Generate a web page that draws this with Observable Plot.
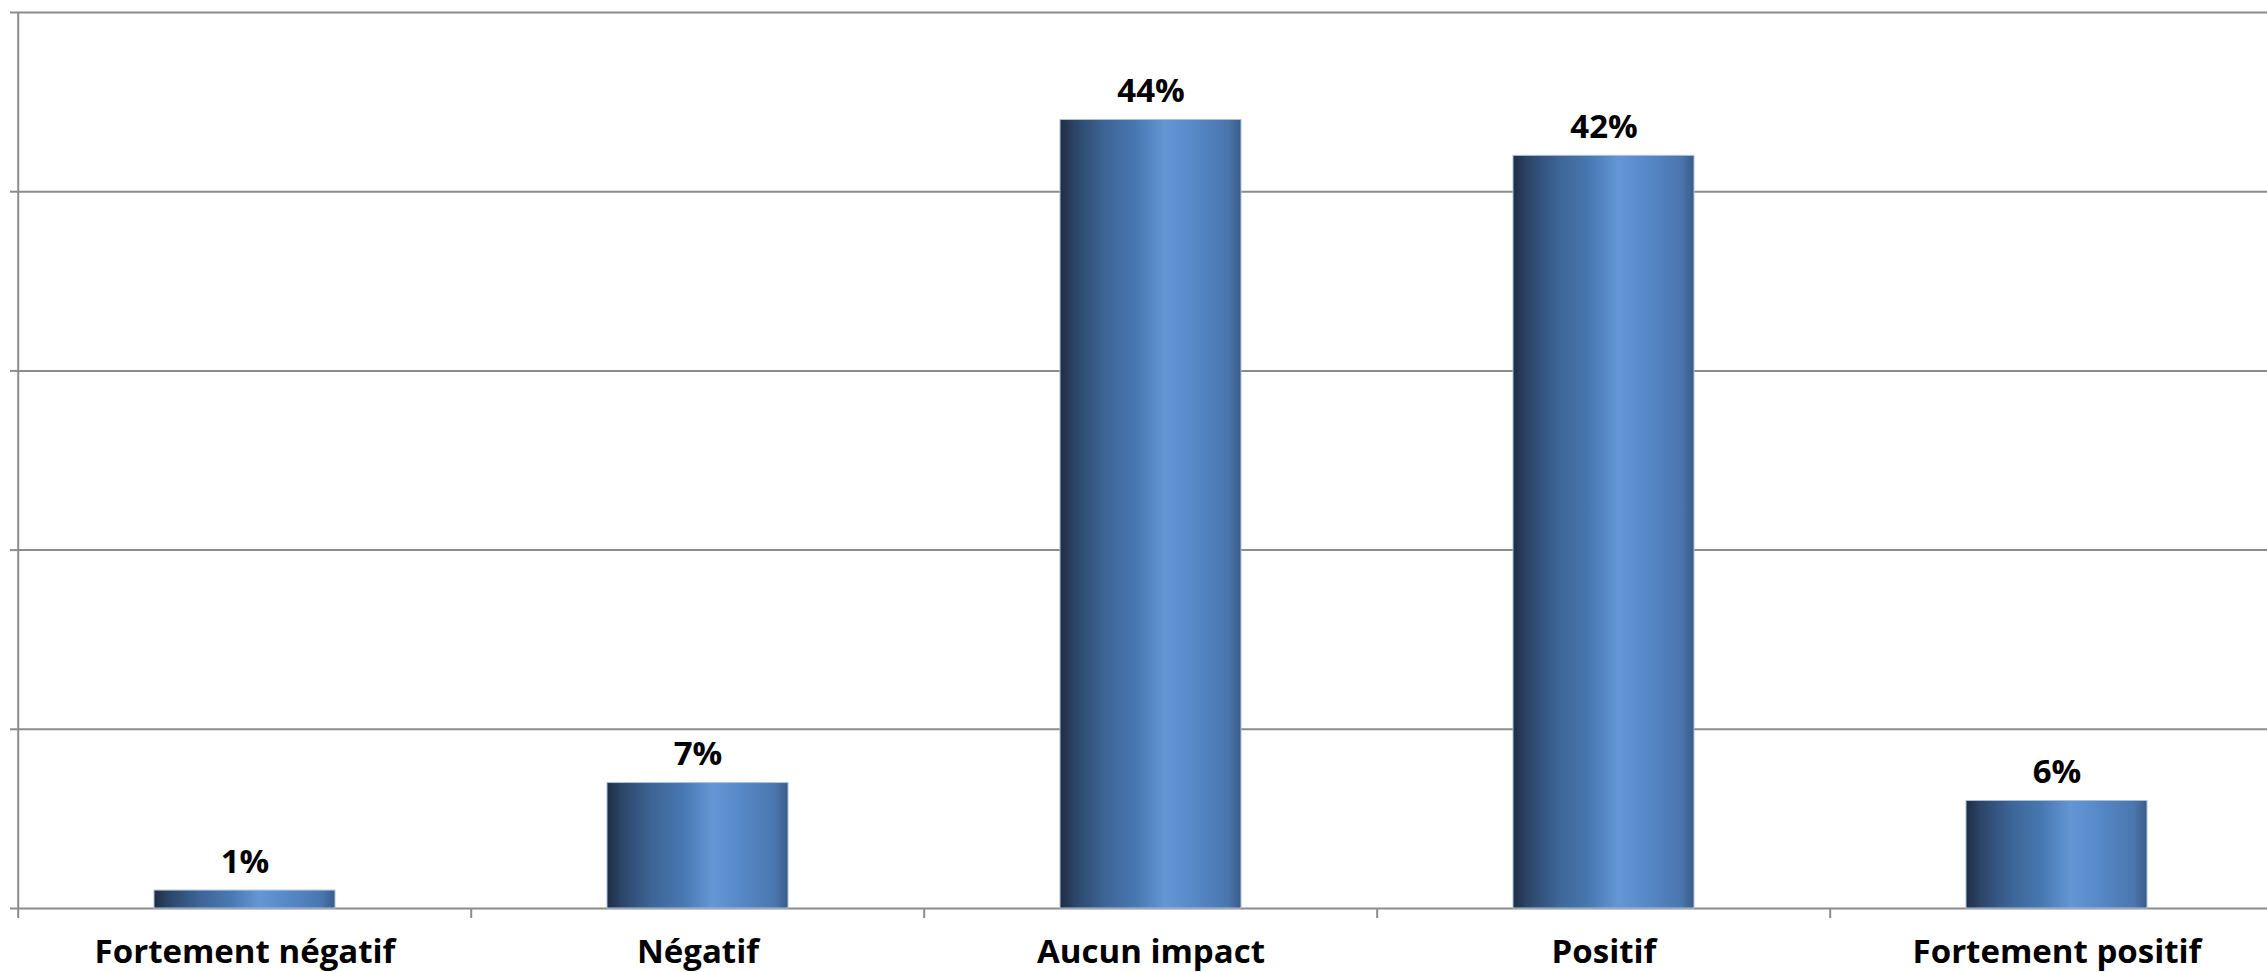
<!DOCTYPE html>
<html>
<head>
<meta charset="utf-8">
<script src="https://cdn.jsdelivr.net/npm/d3@7"></script>
<script src="https://cdn.jsdelivr.net/npm/@observablehq/plot@0.6"></script>
<style>
  html, body { margin: 0; padding: 0; background: #fff; overflow: hidden; }
  #chart svg { display: block; }
</style>
</head>
<body>
<div id="chart"></div>
<script>
// Data
const categories = ["Fortement négatif", "Négatif", "Aucun impact", "Positif", "Fortement positif"];
const values = [1, 7, 44, 42, 6];
const yTicks = [0, 10, 20, 30, 40, 50];

const data = categories.map((c, i) => ({category: c, value: values[i]}));

const W = 2267, H = 972;
const ML = 17, MR = -18, MT = 12, MB = 64;
const step = (W - ML - MR) / categories.length;
const grid = "#8c8c8c";
const font = "'Open Sans', 'Noto Sans', sans-serif";

const defs = () => {
  const d = d3.create("svg:defs");
  const g = d.append("linearGradient").attr("id", "barGrad").attr("x1", 0).attr("x2", 1).attr("y1", 0).attr("y2", 0);
  [[0, "#1e2d44"], [0.08, "#2c4568"], [0.25, "#3d6597"], [0.42, "#4878b1"], [0.58, "#6496d5"], [0.75, "#5687c6"], [0.93, "#4a76ad"], [1, "#3a5b88"]]
    .forEach(([o, c]) => g.append("stop").attr("offset", o).attr("stop-color", c));
  return d.node();
};

const plot = Plot.plot({
  width: W,
  height: H,
  marginLeft: ML,
  marginRight: MR,
  marginTop: MT,
  marginBottom: MB,
  style: {fontFamily: font, background: "#fff"},
  x: {domain: categories, paddingInner: 0.6, paddingOuter: 0.3, label: null},
  y: {domain: [0, 50], label: null},
  marks: [
    defs,
    Plot.gridY(yTicks, {stroke: grid, strokeOpacity: 1, strokeWidth: 2}),
    Plot.axisY(yTicks, {tickSize: 7, text: null, stroke: grid, strokeWidth: 2, strokeOpacity: 1}),
    Plot.ruleX([categories[0]], {dx: -step / 2, y1: 0, y2: 50, stroke: grid, strokeWidth: 2}),
    Plot.axisX(categories, {tickSize: 10, text: null, dx: -step / 2, stroke: grid, strokeWidth: 2, strokeOpacity: 1}),
    Plot.axisX(categories, {tickSize: 0, tickPadding: 31, fontSize: 33, fontWeight: "bold", fill: "#000", label: null}),
    Plot.barY(data, {x: "category", y: "value", fill: "url(#barGrad)", stroke: "#a9c1df", strokeWidth: 1}),
    Plot.text(data, {x: "category", y: "value", text: d => d.value + "%", dy: -18, lineAnchor: "bottom", fontSize: 33, fontWeight: "bold", fill: "#000", ariaLabel: "vlabel"})
  ]
});

// Render the "%" sign in normal weight like the original
d3.select(plot).selectAll("g[aria-label='vlabel'] text").each(function() {
  const t = this.textContent;
  const num = t.replace("%", "");
  const sel = d3.select(this);
  sel.text(null);
  sel.append("tspan").text(num);
  sel.append("tspan").attr("font-weight", "normal").text("%");
});

document.getElementById("chart").appendChild(plot);
</script>
</body>
</html>
